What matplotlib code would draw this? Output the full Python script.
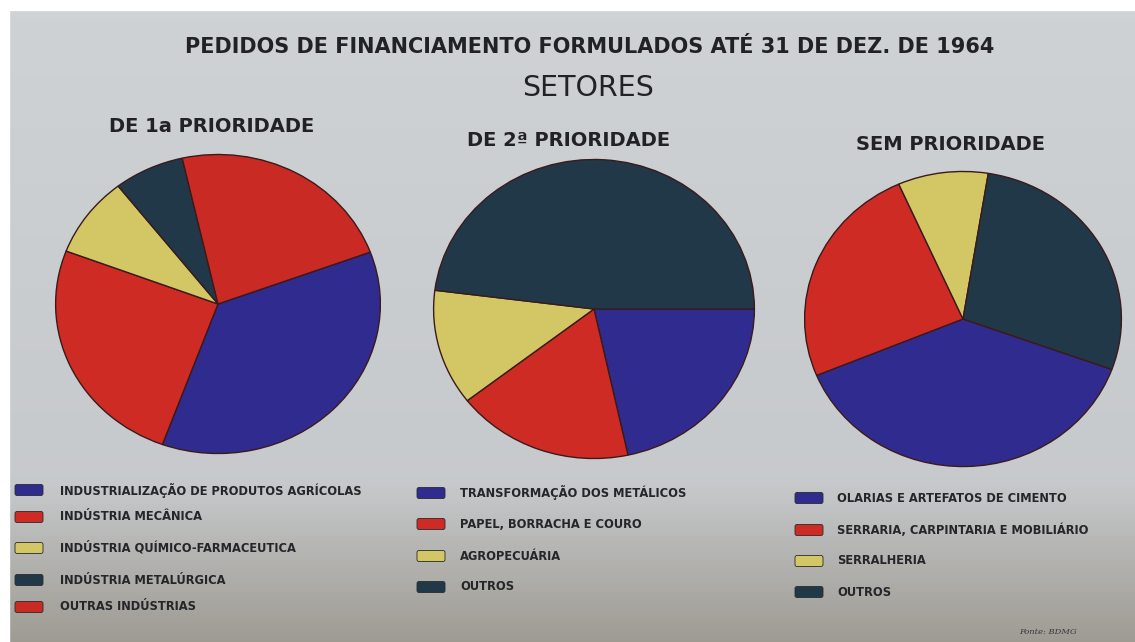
import numpy as np
import matplotlib
matplotlib.use("Agg")
import matplotlib.pyplot as plt
from matplotlib.patches import FancyBboxPatch

# ---------------- data ----------------
title = "PEDIDOS DE FINANCIAMENTO FORMULADOS ATÉ 31 DE DEZ. DE 1964"
subtitle = "SETORES"
pie_titles = ["DE 1a PRIORIDADE", "DE 2ª PRIORIDADE", "SEM PRIORIDADE"]

labels_1 = ["INDUSTRIALIZAÇÃO DE PRODUTOS AGRÍCOLAS", "INDÚSTRIA MECÂNICA",
            "INDÚSTRIA QUÍMICO-FARMACEUTICA", "INDÚSTRIA METALÚRGICA",
            "OUTRAS INDÚSTRIAS"]
values_1 = [36.2, 25.2, 8.7, 7.0, 22.9]

labels_2 = ["TRANSFORMAÇÃO DOS METÁLICOS", "PAPEL, BORRACHA E COURO",
            "AGROPECUÁRIA", "OUTROS"]
values_2 = [21.6, 17.9, 12.5, 48.0]

labels_3 = ["OLARIAS E ARTEFATOS DE CIMENTO", "SERRARIA, CARPINTARIA E MOBILIÁRIO",
            "SERRALHERIA", "OUTROS"]
values_3 = [38.2, 24.6, 9.2, 28.0]

source = "Fonte: BDMG"

# ---------------- style ----------------
BLUE = "#302c8f"
RED = "#cf2b25"
YEL = "#d3c765"
DARK = "#213849"
RED2 = "#c92a24"
colors_1 = [BLUE, RED, YEL, DARK, RED2]
colors_2 = [BLUE, RED, YEL, DARK]
colors_3 = [BLUE, RED, YEL, DARK]

W, H = 1135, 642
fig = plt.figure(figsize=(W / 100, H / 100), dpi=100)

# background (photo-like paper gradient)
bg = fig.add_axes([0, 0, 1, 1])
bg.set_xlim(0, W)
bg.set_ylim(H, 0)
bg.axis("off")
top = np.array([0.81, 0.825, 0.835])
mid = np.array([0.78, 0.79, 0.80])
bot = np.array([0.62, 0.61, 0.58])
ys = np.linspace(0, 1, 200)[:, None]
grad = np.where(ys < 0.75,
                top + (mid - top) * (ys / 0.75),
                mid + (bot - mid) * ((ys - 0.75) / 0.25))
img = np.repeat(grad[:, None, :], 2, axis=1)
bg.imshow(img, extent=[0, W, H, 0], aspect="auto", zorder=0)
bg.add_patch(plt.Rectangle((0, 0), W, 10, color="white", zorder=1))
bg.add_patch(plt.Rectangle((0, 0), 9, H, color="white", zorder=1))

txtc = "#222226"
bg.text(590, 47, title, ha="center", va="center", fontsize=15,
        fontweight="bold", color=txtc, zorder=3)
bg.text(588, 88, subtitle, ha="center", va="center", fontsize=20.5,
        color=txtc, zorder=3)
title_pos = [(212, 127), (569, 140), (950, 145)]
for (tx, ty), t in zip(title_pos, pie_titles):
    bg.text(tx, ty, t, ha="center", va="center", fontsize=14,
            fontweight="bold", color=txtc, zorder=3)


def pie_axes(cx, cy, rx, ry):
    return fig.add_axes([(cx - rx) / W, (H - cy - ry) / H, 2 * rx / W, 2 * ry / H])


pies = [
    (values_1, colors_1, 20.3, (218, 304, 164, 151)),
    (values_2, colors_2, 0.0, (594, 309, 162, 151)),
    (values_3, colors_3, -20.0, (963, 319, 160, 149)),
]
for vals, cols, start, (cx, cy, rx, ry) in pies:
    ax = pie_axes(cx, cy, rx, ry)
    ax.pie(vals, colors=cols, startangle=start, counterclock=False,
           wedgeprops=dict(edgecolor="#3a1a1a", linewidth=1.0))
    ax.set_aspect("auto")
    ax.set_xlim(-1.01, 1.01)
    ax.set_ylim(-1.01, 1.01)
    ax.patch.set_alpha(0)

legends = [
    (labels_1, colors_1, 15, 60, [490, 517, 548, 580, 607]),
    (labels_2, colors_2, 417, 460, [493, 524, 556, 587]),
    (labels_3, colors_3, 795, 837, [498, 530, 561, 592]),
]
for labs, cols, px, tx, rows in legends:
    for lab, col, ry in zip(labs, cols, rows):
        bg.add_patch(FancyBboxPatch((px, ry - 5.5), 28, 11,
                                    boxstyle="round,pad=0,rounding_size=2",
                                    facecolor=col, edgecolor="#2a2a2a",
                                    linewidth=0.6, zorder=3))
        bg.text(tx, ry, lab, ha="left", va="center", fontsize=8.3,
                fontweight="bold", color="#26262a", zorder=3)

bg.text(1048, 632, source, ha="center", va="center", fontsize=6,
        family="DejaVu Serif", style="italic", color="#3a3a3a", zorder=3)

fig.savefig("out.png", dpi=100)
